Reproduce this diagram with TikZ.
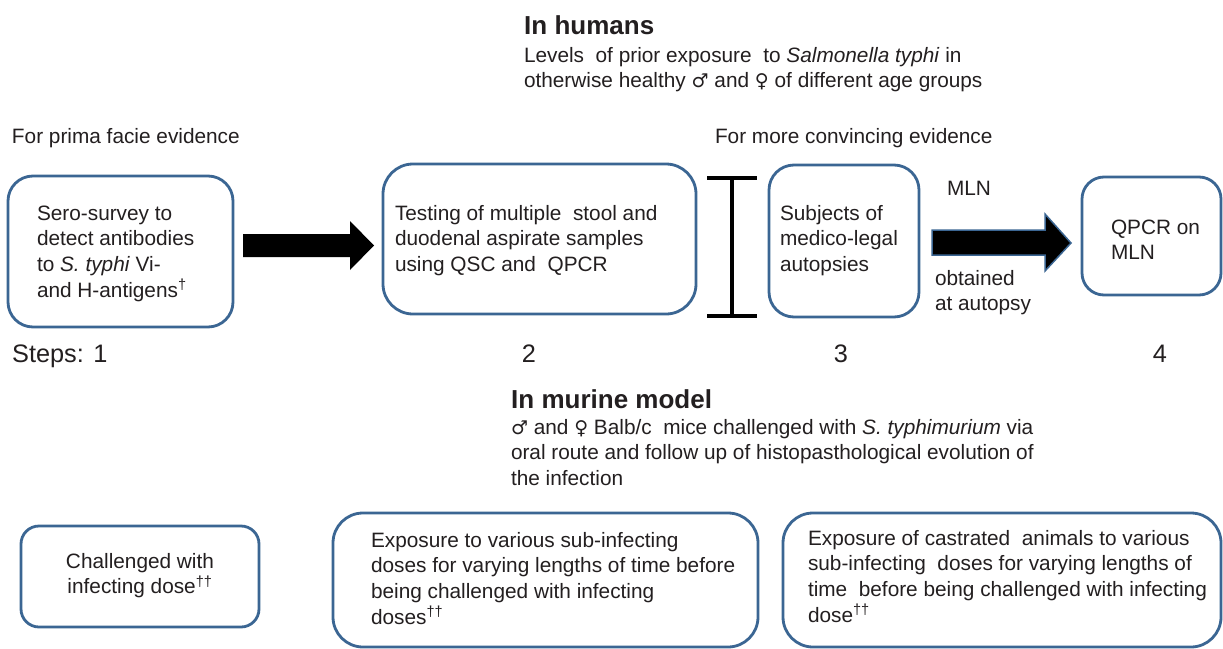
\documentclass[tikz,border=0pt]{standalone}
\usepackage{fontspec}
\setmainfont{Liberation Sans}
\newfontfamily\symfont{DejaVu Sans}
\definecolor{boxc}{RGB}{59,102,147}
\definecolor{txtc}{RGB}{35,31,32}
\newcommand\tst{\rule{0pt}{15pt}}
\newcommand\male{{\symfont\fontsize{19}{25}\selectfont ♂}}
\newcommand\female{{\symfont\fontsize{19}{25}\selectfont ♀}}
\newcommand\bodyfont{\fontsize{20.8}{25.7}\selectfont}
\tikzset{
  txt/.style={inner sep=0pt, outer sep=0pt, anchor=north west, align=left, font=\bodyfont, text=txtc},
  head/.style={inner sep=0pt, anchor=base west, font=\fontsize{26}{30}\selectfont\bfseries, text=txtc},
  stepno/.style={inner sep=0pt, font=\fontsize{25.3}{30}\selectfont, text=txtc},
  rbox/.style={draw=boxc, line width=2.8pt, inner sep=0pt, outer sep=0pt, anchor=north west, fill=white},
  blockarrow/.style={fill=black},
  ibeam/.style={line width=4.5pt, draw=black}
}
\begin{document}
\begin{tikzpicture}[x=1pt,y=-1pt]
\useasboundingbox (0,0) rectangle (1223,648);
\fill[white] (0,0) rectangle (1223,648);

% headings
\node[head] (hum) at (524,34) {In humans};
\node[txt] (humtxt) at (524,47) {\tst Levels~ of prior exposure~ to \textit{Salmonella typhi} in\\otherwise healthy \male{} and \female{} of different age groups};

\node[txt] (prima) at (12,128) {\tst For prima facie evidence};
\node[txt] (conv) at (715,128) {\tst For more convincing evidence};

% step boxes
\node[rbox, rounded corners=25pt, minimum width=225pt, minimum height=151pt] (b1) at (8,176) {};
\node[txt] (t1) at (37,205) {\tst Sero-survey to\\detect antibodies\\to \textit{S. typhi} Vi-\\and H-antigens\textsuperscript{†}};

\node[rbox, rounded corners=30pt, minimum width=313pt, minimum height=150pt] (b2) at (383,164) {};
\node[txt] (t2) at (395,205) {\tst Testing of multiple~ stool and\\duodenal aspirate samples\\using QSC and~ QPCR};

\node[rbox, rounded corners=25pt, minimum width=150pt, minimum height=152pt] (b3) at (769,165) {};
\node[txt] (t3) at (780,205) {\tst Subjects of\\medico-legal\\autopsies};

\node[rbox, rounded corners=22pt, minimum width=139pt, minimum height=118pt] (b4) at (1082,177) {};
\node[txt] (t4) at (1111,219) {\tst QPCR on\\MLN};

% arrow 1
\fill[blockarrow] (243,234) -- (350,234) -- (350,221) -- (374,245.5) -- (350,270) -- (350,257) -- (243,257) -- cycle;

% I-beam
\draw[ibeam] (707,178) -- (757,178);
\draw[ibeam] (732,178) -- (732,316);
\draw[ibeam] (707,316) -- (757,316);

% arrow 2
\filldraw[blockarrow, draw=boxc, line width=1.5pt] (932,230) -- (1045,230) -- (1045,214) -- (1071,243) -- (1045,271) -- (1045,255) -- (932,255) -- cycle;
\node[txt] (mln) at (947,180) {\tst MLN};
\node[txt] (obt) at (935,270) {\tst obtained\\at autopsy};

% steps
\node[stepno, anchor=base west] (s1) at (12,362) {Steps: 1};
\node[stepno, anchor=base] (s2) at (529,362) {2};
\node[stepno, anchor=base] (s3) at (841,362) {3};
\node[stepno, anchor=base] (s4) at (1160,362) {4};

% murine
\node[head] (mur) at (511,408) {In murine model};
\node[txt] (murtxt) at (511,419) {\tst \male{} and \female{} Balb/c~ mice challenged with \textit{S. typhimurium} via\\oral route and follow up of histopasthological evolution of\\the infection};

\node[rbox, rounded corners=18pt, minimum width=238pt, minimum height=101pt] (b5) at (21,526) {};
\node[txt, anchor=north, align=center] (t5) at (140,553) {\tst Challenged with\\infecting dose\textsuperscript{††}};

\node[rbox, rounded corners=30pt, minimum width=425pt, minimum height=134pt] (b6) at (333,513) {};
\node[txt] (t6) at (371,532) {\tst Exposure to various sub-infecting\\doses for varying lengths of time before\\being challenged with infecting\\doses\textsuperscript{††}};

\node[rbox, rounded corners=30pt, minimum width=438pt, minimum height=134pt] (b7) at (783,513) {};
\node[txt] (t7) at (808,530) {\tst Exposure of castrated~ animals to various\\sub-infecting~ doses for varying lengths of\\time~ before being challenged with infecting\\dose\textsuperscript{††}};
\end{tikzpicture}
\end{document}
